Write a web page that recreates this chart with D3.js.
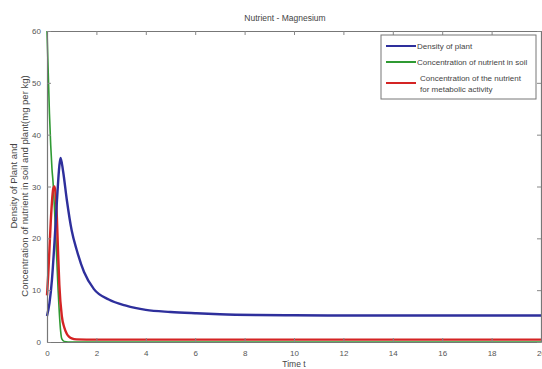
<!DOCTYPE html>
<html>
<head>
<meta charset="utf-8">
<script src="https://cdn.jsdelivr.net/npm/d3@7"></script>
<style>
  body { margin: 0; background: #fff; }
  svg { display: block; font-family: "Liberation Sans Narrow", "Liberation Sans", Arial, sans-serif; }
</style>
</head>
<body>
<svg id="chart" width="542" height="369"></svg>
<script>
// values
const plantT = [0, 0.1, 0.2, 0.3, 0.4, 0.5, 0.55, 0.65, 0.8, 1.0, 1.2, 1.5, 1.9, 2.5, 3.2, 4, 5, 6, 7, 8.5, 10, 14, 20]
const plantV = [5, 7.5, 12, 19, 27, 34, 35.5, 33, 27.5, 21.5, 17.8, 13.5, 10.2, 8.2, 7, 6.2, 5.8, 5.55, 5.35, 5.2, 5.15, 5.1, 5.1]
const soilT = [0, 0.05, 0.1, 0.15, 0.2, 0.25, 0.3, 0.35, 0.4, 0.45, 0.5, 0.55, 0.6, 0.7, 1, 20]
const soilV = [60, 52, 44, 38, 33.5, 30.5, 26, 21, 15.5, 10, 5.5, 2.2, 0.6, 0.1, 0, 0]
const metabT = [0, 0.05, 0.1, 0.15, 0.2, 0.25, 0.3, 0.35, 0.4, 0.45, 0.5, 0.6, 0.7, 0.8, 0.9, 1.0, 1.2, 2, 20]
const metabV = [9, 13, 18, 23, 27, 29.5, 30, 28.5, 24, 17, 11, 5, 2.8, 1.6, 1.0, 0.7, 0.5, 0.45, 0.45]
const xTicks = [0, 2, 4, 6, 8, 10, 12, 14, 16, 18, 20]
const yTicks = [0, 10, 20, 30, 40, 50, 60]
const series = [
  { name: 'Density of plant', t: plantT, v: plantV, color: '#2e2f9c', width: 2.4 },
  { name: 'Concentration of nutrient in soil', t: soilT, v: soilV, color: '#2f9a33', width: 1.6 },
  { name: 'Concentration of the nutrient|for metabolic activity', t: metabT, v: metabV, color: '#d42424', width: 2.4 }
]

const svg = d3.select('#chart')
const m = { left: 47, right: 541, top: 31, bottom: 342 }
const x = d3.scaleLinear().domain([0, 20]).range([m.left, m.right])
const y = d3.scaleLinear().domain([0, 60]).range([m.bottom, m.top])
const textCol = '#555'

// lines first, the box goes on top; green under red, plant last
const line = d3.line().x(d => x(d[0])).y(d => y(d[1])).curve(d3.curveMonotoneX)
const plotG = svg.append('g')
const order = [1, 2, 0]
order.forEach(i => {
  const s = series[i]
  plotG.append('path')
    .datum(s.t.map((t, k) => [t, s.v[k]]))
    .attr('fill', 'none')
    .attr('stroke', s.color)
    .attr('stroke-width', s.width)
    .attr('stroke-linejoin', 'round')
    .attr('d', line)
})

// axes, matlab style box with inward ticks
const axBot = svg.append('g').attr('transform', `translate(0,${m.bottom})`)
  .call(d3.axisBottom(x).tickValues(xTicks).tickSizeInner(-4).tickSizeOuter(0).tickPadding(8))
const axTop = svg.append('g').attr('transform', `translate(0,${m.top})`)
  .call(d3.axisTop(x).tickValues(xTicks).tickSizeInner(-4).tickSizeOuter(0).tickFormat(''))
const axLeft = svg.append('g').attr('transform', `translate(${m.left},0)`)
  .call(d3.axisLeft(y).tickValues(yTicks).tickSizeInner(-4).tickSizeOuter(0).tickPadding(6))
const axRight = svg.append('g').attr('transform', `translate(${m.right},0)`)
  .call(d3.axisRight(y).tickValues(yTicks).tickSizeInner(-4).tickSizeOuter(0).tickFormat(''))
;[axBot, axTop, axLeft, axRight].forEach(g => {
  g.selectAll('path').attr('stroke', '#777').attr('stroke-width', 1.2)
  g.selectAll('line').attr('stroke', '#888')
  g.selectAll('text').attr('fill', textCol).style('font-size', '8px')
})

// title and axis labels
svg.append('text').attr('x', 285).attr('y', 21).attr('text-anchor', 'middle')
  .attr('fill', '#444').style('font-size', '8.5px').text('Nutrient - Magnesium')
svg.append('text').attr('x', 294).attr('y', 367).attr('text-anchor', 'middle')
  .attr('fill', '#444').style('font-size', '8.5px').text('Time t')
const yl = svg.append('text').attr('transform', 'translate(17,186) rotate(-90)')
  .attr('text-anchor', 'middle').attr('fill', '#444')
  .style('font-family', '"Liberation Sans", Arial, sans-serif').style('font-size', '9.5px')
yl.append('tspan').attr('x', 0).attr('dy', 0).text('Density of Plant and')
yl.append('tspan').attr('x', 0).attr('dy', 10.5).text('Concentration of nutrient in soil and plant(mg per kg)')

// legend
const lg = svg.append('g')
lg.append('rect').attr('x', 381).attr('y', 35).attr('width', 155).attr('height', 64)
  .attr('fill', '#fff').attr('stroke', '#777').attr('stroke-width', 1)
const rows = [46, 62, 83]
series.forEach((s, i) => {
  lg.append('line').attr('x1', 386).attr('x2', 416).attr('y1', rows[i]).attr('y2', rows[i])
    .attr('stroke', s.color).attr('stroke-width', 2)
  const parts = s.name.split('|')
  const t = lg.append('text').attr('fill', '#444').style('font-size', '8px')
  parts.forEach((p, k) => {
    t.append('tspan').attr('x', parts.length > 1 ? 420 : 417)
      .attr('y', rows[i] + 3 + (parts.length > 1 ? (k - 0.5) * 11 : 0)).text(p)
  })
})
</script>
</body>
</html>
